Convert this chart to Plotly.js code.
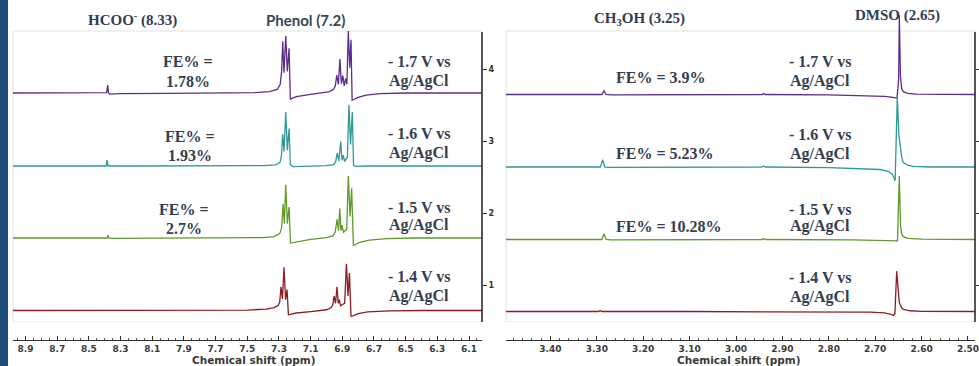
<!DOCTYPE html>
<html>
<head>
<meta charset="utf-8">
<script src="https://cdn.plot.ly/plotly-3.0.1.min.js"></script>
<style>
  html, body { margin: 0; padding: 0; background: #fff; }
  #chart { width: 979px; height: 366px; }
</style>
</head>
<body>
<div id="chart"></div>
<script>
// Stacked 1H NMR spectra of the electrolyte after electrolysis at four potentials.
// Left: formate / phenol region; right: methanol / DMSO region.

const potentials = ['- 1.7 V vs', '- 1.6 V vs', '- 1.5 V vs', '- 1.4 V vs'];
const refElectrode = 'Ag/AgCl';
const feFormate = ['1.78%', '1.93%', '2.7%'];
const feMethanol = ['3.9%', '5.23%', '10.28%'];
const traceColors = ['#5b2d8e', '#2e9a98', '#5f9a2b', '#8c1d20'];
const axisTitle = 'Chemical shift (ppm)';

// vertical offset of each spectrum (stack positions on the intensity axis)
const offsetsAromatic = [3.667, 2.653, 1.653, 0.646];
const offsetsAliphatic = [3.646, 2.639, 1.632, 0.632];

// [chemical shift (ppm), intensity above the spectrum baseline]
const aro17 = [[8.979,0],[8.80,0],[8.60,0],[8.40,0],[8.388,0.005],[8.381,0.11],[8.376,0],[8.368,-0.015],[8.30,-0.01],[8.00,-0.005],[7.70,0],[7.45,0.005],[7.36,0.02],[7.31,0.05],[7.292,0.12],[7.283,0.3],[7.276,0.72],[7.268,0.28],[7.257,0.79],[7.247,0.3],[7.236,0.62],[7.228,-0.09],[7.218,-0.075],[7.19,-0.05],[7.12,-0.025],[7.03,0],[6.98,0.02],[6.955,0.05],[6.944,0.1],[6.935,0.25],[6.925,0.12],[6.915,0.47],[6.906,0.13],[6.897,0.24],[6.888,0.1],[6.879,0.2],[6.871,0.12],[6.862,0.86],[6.853,0.35],[6.845,0.74],[6.838,-0.1],[6.828,-0.09],[6.80,-0.06],[6.75,-0.03],[6.66,-0.01],[6.50,0],[6.30,0],[6.018,0]];
const aro16 = [[8.979,0],[8.60,0],[8.40,0],[8.391,0],[8.385,0.08],[8.379,0],[8.20,0],[7.90,0],[7.60,0],[7.40,0.005],[7.32,0.015],[7.293,0.05],[7.284,0.15],[7.276,0.44],[7.268,0.2],[7.257,0.75],[7.247,0.22],[7.236,0.52],[7.228,0.02],[7.21,-0.01],[7.15,-0.005],[7.00,0.005],[6.955,0.02],[6.942,0.06],[6.932,0.18],[6.922,0.07],[6.910,0.34],[6.902,0.08],[6.894,0.15],[6.885,0.06],[6.877,0.1],[6.868,0.12],[6.858,0.85],[6.848,0.3],[6.837,0.75],[6.829,0.01],[6.815,-0.005],[6.75,0],[6.50,0],[6.018,0]];
const aro15 = [[8.979,0],[8.60,0],[8.39,0],[8.383,0],[8.379,0.04],[8.375,0],[8.35,-0.005],[8.00,0],[7.60,0],[7.40,0.005],[7.33,0.02],[7.295,0.06],[7.283,0.14],[7.274,0.47],[7.266,0.2],[7.257,0.74],[7.247,0.2],[7.236,0.43],[7.227,-0.07],[7.215,-0.065],[7.18,-0.045],[7.10,-0.02],[7.00,0.005],[6.96,0.03],[6.945,0.08],[6.933,0.26],[6.924,0.1],[6.916,0.41],[6.909,0.1],[6.902,0.18],[6.892,0.08],[6.883,0.1],[6.872,0.12],[6.862,0.86],[6.851,0.3],[6.841,0.69],[6.830,-0.1],[6.820,-0.095],[6.79,-0.06],[6.73,-0.03],[6.62,-0.01],[6.45,0],[6.018,0]];
const aro14 = [[8.979,0],[8.60,0],[8.20,0],[7.80,0],[7.50,0.005],[7.38,0.02],[7.33,0.04],[7.305,0.07],[7.295,0.12],[7.287,0.33],[7.278,0.16],[7.268,0.6],[7.258,0.15],[7.249,0.29],[7.240,-0.06],[7.228,-0.055],[7.19,-0.035],[7.10,-0.015],[7.00,0.01],[6.97,0.04],[6.960,0.08],[6.952,0.2],[6.943,0.1],[6.933,0.33],[6.926,0.1],[6.919,0.15],[6.911,0.06],[6.902,0.08],[6.885,0.1],[6.874,0.65],[6.864,0.2],[6.855,0.52],[6.845,-0.08],[6.833,-0.075],[6.80,-0.045],[6.74,-0.02],[6.60,-0.005],[6.40,0],[6.018,0]];

const ali17 = [[3.4957,0],[3.40,0],[3.30,0],[3.289,0],[3.2845,0.05],[3.280,0],[3.27,-0.005],[3.10,0],[2.95,0],[2.944,0],[2.941,0.015],[2.937,0],[2.80,-0.005],[2.72,-0.015],[2.68,-0.025],[2.662,-0.04],[2.653,-0.05],[2.6495,0.2],[2.648,1.10],[2.6455,0.25],[2.6429,0.08],[2.6394,0.04],[2.63,0.015],[2.61,0.005],[2.55,0],[2.4849,0]];
const ali16 = [[3.4957,0],[3.40,0],[3.30,0],[3.292,0],[3.2873,0.1],[3.283,0],[3.275,-0.005],[3.10,0],[2.95,0],[2.944,0],[2.941,0.015],[2.937,0],[2.80,-0.01],[2.73,-0.02],[2.69,-0.035],[2.672,-0.06],[2.663,-0.1],[2.657,-0.19],[2.6524,0.97],[2.649,0.45],[2.6455,0.22],[2.6429,0.14],[2.6394,0.06],[2.63,0.025],[2.6185,0.01],[2.58,0],[2.4849,0]];
const ali15 = [[3.4957,0],[3.40,0],[3.30,0],[3.289,0],[3.2845,0.08],[3.280,0],[3.27,-0.005],[3.10,0],[2.95,0],[2.944,0],[2.941,0.015],[2.937,0],[2.75,-0.005],[2.665,-0.01],[2.652,-0.02],[2.648,0.88],[2.6455,0.2],[2.6429,0.08],[2.6394,0.04],[2.63,0.015],[2.60,0.005],[2.4849,0]];
const ali14 = [[3.4957,0],[3.35,0],[3.296,0],[3.293,0.015],[3.289,0],[3.10,0],[2.90,0],[2.75,-0.005],[2.711,-0.01],[2.68,-0.02],[2.668,-0.035],[2.661,-0.055],[2.6575,-0.03],[2.6537,0.56],[2.650,0.2],[2.648,0.12],[2.6429,0.05],[2.6394,0.03],[2.625,0.01],[2.60,0.002],[2.4849,0]];

const aromaticSpectra = [aro17, aro16, aro15, aro14];
const aliphaticSpectra = [ali17, ali16, ali15, ali14];

// page geometry helpers (pixel -> paper fraction)
const W = 979, H = 366;
const fx = x => x / W;
const fy = y => 1 - y / H;

const textColor = '#333d4f';
const serifFont = (size) => ({ family: '"Liberation Serif", "Times New Roman", serif', size: size, color: textColor, weight: 700 });

function spectrum(pairs, offset, color, xa, ya) {
  return {
    type: 'scatter', mode: 'lines',
    x: pairs.map(p => p[0]),
    y: pairs.map(p => p[1] + offset),
    xaxis: xa, yaxis: ya,
    line: { color: color, width: 1.3 },
    hoverinfo: 'skip', showlegend: false
  };
}

const data = [];
aromaticSpectra.forEach((s, i) => data.push(spectrum(s, offsetsAromatic[i], traceColors[i], 'x', 'y')));
aliphaticSpectra.forEach((s, i) => data.push(spectrum(s, offsetsAliphatic[i], traceColors[i], 'x2', 'y2')));

const yRange = [0.486, 4.917];
const frameTop = 4.528, axisTop = 4.514;
const yDomain = [fy(322), fy(3)];

const tickFont = { family: '"DejaVu Sans", Verdana, sans-serif', size: 9, color: '#3a3a3a', weight: 700 };
const titleFont = { family: '"DejaVu Sans", Verdana, sans-serif', size: 10.5, color: '#3a3a3a', weight: 700 };

function xAxis(domain, range, dtick, tick0, fmt, minorDtick) {
  return {
    domain: domain, range: range, anchor: 'free', position: fy(340),
    showline: true, linecolor: '#333', linewidth: 1,
    ticks: 'inside', ticklen: 4, tickcolor: '#333', tickwidth: 1,
    dtick: dtick, tick0: tick0, tickformat: fmt, tickfont: tickFont,
    ticklabeloverflow: 'allow',
    minor: { dtick: minorDtick, tick0: 0, ticks: 'inside', ticklen: 2, tickcolor: '#555', showgrid: false },
    showgrid: false, zeroline: false
  };
}

function yAxis(anchor, labels) {
  return {
    domain: yDomain, range: yRange, anchor: anchor, side: 'right',
    tickvals: [1, 2, 3, 4], ticks: 'outside', ticklen: 4, tickcolor: '#333',
    showticklabels: labels,
    tickfont: { family: '"DejaVu Sans", sans-serif', size: 8, color: '#333', weight: 700 },
    showline: false, showgrid: false, zeroline: false
  };
}

const shapes = [
  // dark side band
  { type: 'rect', xref: 'paper', yref: 'paper', x0: 0, x1: fx(8), y0: 0, y1: 1,
    fillcolor: '#1f4e79', line: { width: 0 }, layer: 'above' }
];
[['x', 'y'], ['x2', 'y2']].forEach(([xa, ya]) => {
  shapes.push({ type: 'rect', xref: xa + ' domain', yref: ya, x0: 0, x1: 1, y0: yRange[0], y1: frameTop,
    line: { color: '#e2e2e2', width: 1 }, layer: 'below' });
  shapes.push({ type: 'line', xref: xa + ' domain', yref: ya, x0: 1, x1: 1, y0: yRange[0], y1: axisTop,
    line: { color: '#222', width: 1.5 }, layer: 'above' });
});

const annotations = [];
function addText(text, x, y, font) {
  annotations.push({ xref: 'paper', yref: 'paper', x: fx(x), y: fy(y), text: text,
    showarrow: false, xanchor: 'center', yanchor: 'middle', font: font });
}

// axis titles under each chemical-shift axis
addText(axisTitle, 254, 359.5, titleFont);
addText(axisTitle, 739, 359.5, titleFont);

// peak assignments
addText('HCOO<sup>-</sup> (8.33)', 132, 20, serifFont(15));
addText('Phenol (7.2)', 305, 20, { family: 'Lato, "Open Sans", sans-serif', size: 15, color: '#3a4352', weight: 700 });
addText('CH<sub>3</sub>OH (3.25)', 639, 19, serifFont(15));
addText('DMSO (2.65)', 897, 15, serifFont(15));

// faradaic efficiencies, formate
const feLeftPos = [[188, 62, 81], [190, 136, 155], [184, 209, 228]];
feFormate.forEach((v, i) => {
  addText('FE% =', feLeftPos[i][0], feLeftPos[i][1], serifFont(16));
  addText(v, feLeftPos[i][0], feLeftPos[i][2], serifFont(16));
});
// faradaic efficiencies, methanol
const feRightPos = [[661, 77], [665, 153], [669, 226]];
feMethanol.forEach((v, i) => addText('FE% = ' + v, feRightPos[i][0], feRightPos[i][1], serifFont(16)));

// applied potentials
const potLeftPos = [[62, 81], [133, 153], [207, 225], [276, 296]];
const potRightPos = [[62, 81], [134, 154], [209, 226], [277, 297]];
potentials.forEach((p, i) => {
  addText(p, 419, potLeftPos[i][0], serifFont(16));
  addText(refElectrode, 419, potLeftPos[i][1], serifFont(16));
  addText(p, 820, potRightPos[i][0], serifFont(16));
  addText(refElectrode, 820, potRightPos[i][1], serifFont(16));
});

const layout = {
  width: W, height: H,
  margin: { l: 0, r: 0, t: 0, b: 0 },
  paper_bgcolor: '#fff', plot_bgcolor: 'rgba(0,0,0,0)',
  showlegend: false,
  xaxis: xAxis([fx(13), fx(482)], [8.979, 6.018], 0.2, 0.1, '.1f', 0.05),
  xaxis2: xAxis([fx(506), fx(975)], [3.4957, 2.4849], 0.1, 0, '.2f', 0.02),
  yaxis: yAxis('x', true),
  yaxis2: yAxis('x2', false),
  shapes: shapes,
  annotations: annotations
};

Plotly.newPlot('chart', data, layout, { staticPlot: true, displayModeBar: false });
</script>
</body>
</html>
